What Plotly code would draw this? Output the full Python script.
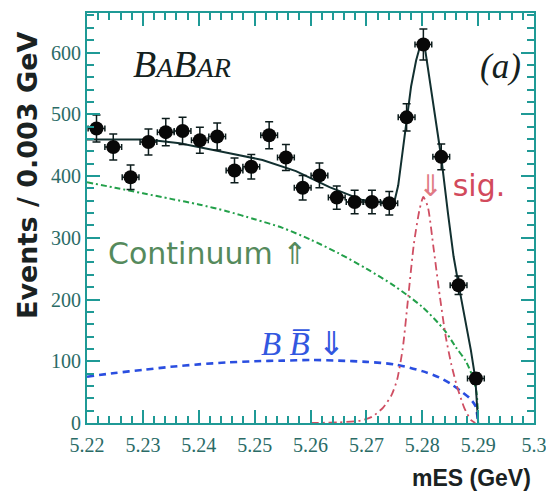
import plotly.graph_objects as go

# mES bin centres (GeV), event counts and statistical errors
mes = [5.2217, 5.2247, 5.2278, 5.2310, 5.2341, 5.2371, 5.2402, 5.2433,
       5.2464, 5.2494, 5.2526, 5.2556, 5.2586, 5.2616, 5.2647, 5.2679,
       5.2710, 5.2741, 5.2772, 5.2802, 5.2834, 5.2865, 5.2896]
events = [477, 447, 398, 455, 471, 473, 458, 464,
          409, 415, 466, 430, 381, 401, 365, 358,
          358, 356, 495, 613, 431, 223, 72]
events_err = [22, 21, 20, 21, 22, 22, 21, 22,
              20, 20, 22, 21, 20, 20, 19, 19,
              19, 19, 22, 25, 21, 15, 9]
half_bin = 0.0015

# total fit
fit_x = [5.2200, 5.2307, 5.2366, 5.2438, 5.2455, 5.2514, 5.2574, 5.2634,
         5.2693, 5.2741, 5.2750, 5.2757, 5.2765, 5.2772, 5.2780, 5.2789,
         5.2796, 5.2803, 5.2812, 5.2822, 5.2834, 5.2846, 5.2856, 5.2865,
         5.2876, 5.2887, 5.2895, 5.2900]
fit_y = [459, 459, 453, 441, 437, 426, 408, 382,
         361, 356, 358, 385, 440, 490, 545, 587,
         610, 618, 565, 500, 430, 340, 270, 224,
         172, 118, 72, 0]

# continuum component
cont_x = [5.2200, 5.2250, 5.2300, 5.2350, 5.2400, 5.2450, 5.2500, 5.2550,
          5.2600, 5.2650, 5.2700, 5.2750, 5.2800, 5.2840, 5.2860, 5.2878,
          5.2890, 5.2897, 5.2900]
cont_y = [390, 381, 372, 363, 354, 343, 330, 316,
          297, 275, 250, 222, 188, 150, 123, 100,
          75, 50, 0]

# B-Bbar component
bb_x = [5.2200, 5.2250, 5.2300, 5.2350, 5.2400, 5.2450, 5.2500, 5.2550,
        5.2600, 5.2650, 5.2700, 5.2750, 5.2800, 5.2830, 5.2850, 5.2870,
        5.2885, 5.2895, 5.2900]
bb_y = [75, 81, 86, 91, 95, 98, 100, 101,
        102, 101, 99, 95, 84, 74, 64, 51,
        40, 28, 0]

# signal component
sig_x = [5.2600, 5.2650, 5.2690, 5.2710, 5.2730, 5.2745, 5.2755, 5.2765,
         5.2775, 5.2785, 5.2795, 5.2802, 5.2810, 5.2820, 5.2830, 5.2842,
         5.2852, 5.2862, 5.2875, 5.2887, 5.2895]
sig_y = [0, 1, 4, 10, 25, 45, 70, 120,
         205, 290, 345, 366, 350, 285, 215, 140,
         95, 60, 25, 5, 0]

x_ticks = [5.22, 5.23, 5.24, 5.25, 5.26, 5.27, 5.28, 5.29, 5.30]
x_tick_text = ["5.22", "5.23", "5.24", "5.25", "5.26", "5.27", "5.28", "5.29", "5.3"]
y_ticks = [0, 100, 200, 300, 400, 500, 600]
y_tick_text = ["0", "100", "200", "300", "400", "500", "600"]

AXIS = "#1f9a96"
TICKFONT = dict(family="Liberation Serif", size=20, color="#2a6b66")
W, H = 546, 501
L, R, T, B = 87, 12, 13, 78
PW, PH = W - L - R, H - T - B


def px(xp, yp):
    """pixel position inside the figure -> paper coordinates"""
    return (xp - L) / PW, (H - B - yp) / PH


fig = go.Figure()

fig.add_trace(go.Scatter(x=cont_x, y=cont_y, mode="lines",
                         line=dict(color="#23a04a", width=2, dash="6px,3px,2px,3px",
                                   shape="spline", smoothing=0.8)))
fig.add_trace(go.Scatter(x=bb_x, y=bb_y, mode="lines",
                         line=dict(color="#2a4ee0", width=2.6, dash="7px,5px",
                                   shape="spline", smoothing=0.8)))
fig.add_trace(go.Scatter(x=sig_x, y=sig_y, mode="lines",
                         line=dict(color="#cf4e62", width=1.8, dash="8px,4px,2px,4px",
                                   shape="spline", smoothing=0.6)))
fig.add_trace(go.Scatter(x=fit_x, y=fit_y, mode="lines",
                         line=dict(color="#123030", width=2)))
fig.add_trace(go.Scatter(
    x=mes, y=events, mode="markers",
    marker=dict(color="#080808", size=14),
    error_y=dict(type="data", array=events_err, color="#0c1c1c", thickness=1.5, width=4),
    error_x=dict(type="constant", value=half_bin, color="#0c1c1c", thickness=1.5, width=3),
))

annotations = []

ax, ay = px(27, 176)
annotations.append(dict(x=ax, y=ay, xref="paper", yref="paper", textangle=-90,
                        text="<b>Events / 0.003 GeV</b>", showarrow=False,
                        xanchor="center", yanchor="middle",
                        font=dict(family="DejaVu Sans", size=27, color="#1a2222")))
ax, ay = px(533, 478)
annotations.append(dict(x=ax, y=ay, xref="paper", yref="paper",
                        text="<b>mES (GeV)</b>", showarrow=False,
                        xanchor="right", yanchor="middle",
                        font=dict(family="Liberation Sans", size=23, color="#1a2222")))
ax, ay = px(131, 64)
annotations.append(dict(x=ax, y=ay, xref="paper", yref="paper",
                        text="<i>B<span style='font-size:28px'>A</span>B<span style='font-size:28px'>AR</span></i>",
                        showarrow=False, xanchor="left", yanchor="middle",
                        font=dict(family="Liberation Serif", size=38, color="#142120")))
ax, ay = px(500, 66)
annotations.append(dict(x=ax, y=ay, xref="paper", yref="paper",
                        text="<i>(a)</i>", showarrow=False,
                        xanchor="center", yanchor="middle",
                        font=dict(family="Liberation Serif", size=35, color="#142120")))
ax, ay = px(106, 253)
annotations.append(dict(x=ax, y=ay, xref="paper", yref="paper",
                        text="Continuum ⇑", showarrow=False,
                        xanchor="left", yanchor="middle",
                        font=dict(family="DejaVu Sans", size=30, color="#558a5c")))
ax, ay = px(416, 185)
annotations.append(dict(x=ax, y=ay, xref="paper", yref="paper",
                        text="<span style='color:#e07a84'>⇓</span> sig.", showarrow=False,
                        xanchor="left", yanchor="middle",
                        font=dict(family="DejaVu Sans", size=30, color="#d24a5c")))
ax, ay = px(259, 343)
annotations.append(dict(x=ax, y=ay, xref="paper", yref="paper",
                        text="<i>B B\u0305</i> <span style='font-family:DejaVu Sans'>⇓</span>",
                        showarrow=False, xanchor="left", yanchor="middle",
                        font=dict(family="Liberation Serif", size=33, color="#3257e0")))

axis_common = dict(showline=True, linecolor=AXIS, linewidth=2, mirror="ticks",
                   ticks="inside", tickcolor=AXIS, tickwidth=1.5, ticklen=13,
                   showgrid=False, zeroline=False, tickfont=TICKFONT,
                   automargin=False)

fig.update_layout(
    width=W, height=H,
    margin=dict(l=L, r=R, t=T, b=B, pad=0, autoexpand=False),
    paper_bgcolor="white", plot_bgcolor="white",
    showlegend=False,
    annotations=annotations,
    xaxis=dict(range=[5.22, 5.30], tickvals=x_ticks, ticktext=x_tick_text,
               ticklabeloverflow="allow", ticklabelstandoff=3,
               minor=dict(dtick=0.002, ticks="inside", ticklen=7, tickcolor=AXIS,
                          tickwidth=1.5, showgrid=False),
               **axis_common),
    yaxis=dict(range=[0, 664], tickvals=y_ticks, ticktext=y_tick_text,
               minor=dict(dtick=20, ticks="inside", ticklen=7, tickcolor=AXIS,
                          tickwidth=1.5, showgrid=False),
               **axis_common),
)

fig.write_html("out.html")
